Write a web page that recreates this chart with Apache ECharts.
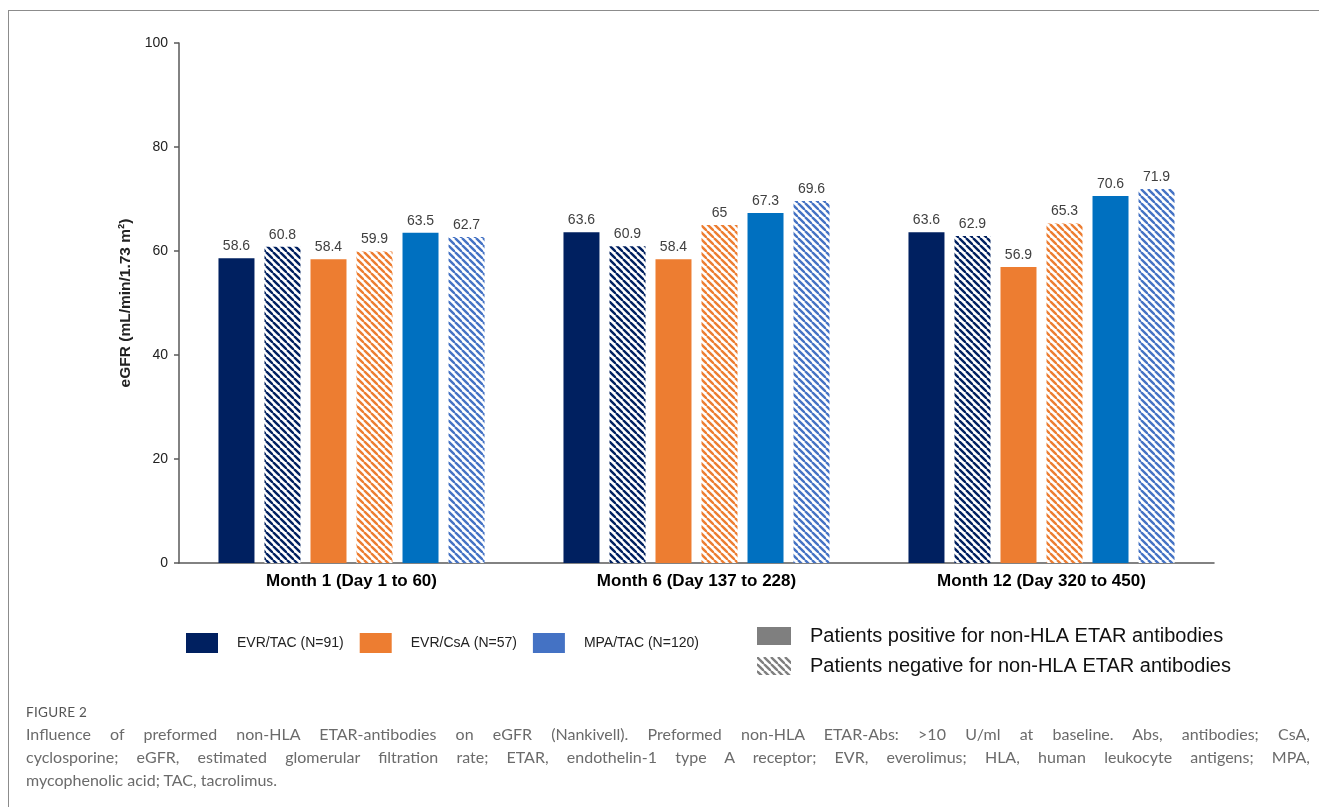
<!DOCTYPE html>
<html><head><meta charset="utf-8">
<script src="https://cdn.jsdelivr.net/npm/echarts@6/dist/echarts.min.js"></script>
<style>
html,body{margin:0;padding:0;background:#fff;}
#wrap{position:relative;width:1319px;height:807px;overflow:hidden;background:#fff;}
#chart{position:absolute;left:0;top:0;width:1319px;height:807px;}
#frame{position:absolute;left:8px;top:10px;right:-2px;bottom:-2px;border-top:1px solid #8c8c8c;border-left:1px solid #8c8c8c;pointer-events:none;}
#cap{position:absolute;left:26px;width:1284px;top:702px;font-family:Lato,'Open Sans',sans-serif;color:#6b6b6b;}
#cap .fig{font-size:13.5px;line-height:20px;letter-spacing:0.3px;color:#555;}
#cap .ln{font-size:16px;line-height:23px;text-align:justify;text-align-last:justify;}
#cap .last{font-size:16px;line-height:23px;text-align:left;}
</style></head>
<body><div id="wrap"><div id="chart"></div><div id="frame"></div>
<div id="cap">
<div class="fig">FIGURE 2</div>
<div class="ln">Influence of preformed non-HLA ETAR-antibodies on eGFR (Nankivell). Preformed non-HLA ETAR-Abs: &gt;10 U/ml at baseline. Abs, antibodies; CsA,</div>
<div class="ln">cyclosporine; eGFR, estimated glomerular filtration rate; ETAR, endothelin-1 type A receptor; EVR, everolimus; HLA, human leukocyte antigens; MPA,</div>
<div class="last">mycophenolic acid; TAC, tacrolimus.</div>
</div></div>
<script>
const categories = ['Month 1 (Day 1 to 60)', 'Month 6 (Day 137 to 228)', 'Month 12 (Day 320 to 450)'];
const evrTacPos = [58.6, 63.6, 63.6];
const evrTacNeg = [60.8, 60.9, 62.9];
const evrCsaPos = [58.4, 58.4, 56.9];
const evrCsaNeg = [59.9, 65, 65.3];
const mpaTacPos = [63.5, 67.3, 70.6];
const mpaTacNeg = [62.7, 69.6, 71.9];
const yTicks = [0, 20, 40, 60, 80, 100];
const groupNames = ['EVR/TAC (N=91)', 'EVR/CsA (N=57)', 'MPA/TAC (N=120)'];
const statusNames = ['Patients positive for non-HLA ETAR antibodies', 'Patients negative for non-HLA ETAR antibodies'];

const NAVY = '#002060', ORANGE = '#ED7D31', BLUE = '#0070C0', LBLUE = '#4472C4', GREY = '#7f7f7f';

function hatch(color) {
  const s = 7;
  const c = document.createElement('canvas');
  c.width = s; c.height = s;
  const g = c.getContext('2d');
  g.fillStyle = '#fff'; g.fillRect(0, 0, s, s);
  g.strokeStyle = color; g.lineWidth = 2.4;
  for (let k = -1; k <= 1; k++) {
    g.beginPath(); g.moveTo(k * s, 0); g.lineTo(k * s + s, s); g.stroke();
  }
  return { image: c, repeat: 'repeat' };
}

const font = "'Liberation Sans', Arial, sans-serif";
const label = { show: true, position: 'top', distance: 5, fontSize: 14, color: '#404040', fontFamily: font };

function bar(name, data, color, extra) {
  return Object.assign({
    type: 'bar', name: name, data: data, barWidth: 36, barGap: '27.8%',
    itemStyle: { color: color }, label: label, emphasis: { disabled: true }
  }, extra || {});
}

const series = [
  bar(groupNames[0], evrTacPos, NAVY, { stack: 'a' }),
  bar(groupNames[0] + ' neg', evrTacNeg, hatch(NAVY)),
  bar(groupNames[1], evrCsaPos, ORANGE),
  bar(groupNames[1] + ' neg', evrCsaNeg, hatch(ORANGE)),
  bar(groupNames[2], mpaTacPos, BLUE),
  bar(groupNames[2] + ' neg', mpaTacNeg, hatch(LBLUE)),
  { type: 'bar', name: statusNames[0], data: [], stack: 'a', itemStyle: { color: GREY } },
  { type: 'bar', name: statusNames[1], data: [], stack: 'a', itemStyle: { color: hatch(GREY) } }
];

const chart = echarts.init(document.getElementById('chart'), null, { renderer: 'canvas' });
chart.setOption({
  animation: false,
  backgroundColor: 'transparent',
  grid: { left: 179, right: 105, top: 43, bottom: 244, containLabel: false },
  xAxis: {
    type: 'category', data: categories,
    axisLine: { lineStyle: { color: '#595959', width: 1.5 } },
    axisTick: { show: false },
    axisLabel: { fontSize: 17, fontWeight: 'bold', color: '#000', margin: 10, fontFamily: font }
  },
  yAxis: {
    type: 'value', min: yTicks[0], max: yTicks[yTicks.length - 1], interval: 20,
    name: 'eGFR (mL/min/1.73 m²)', nameLocation: 'middle', nameGap: 45,
    nameTextStyle: { fontSize: 15.5, fontWeight: 'bold', color: '#222', fontFamily: font },
    axisLine: { show: true, lineStyle: { color: '#595959', width: 1.5 } },
    axisTick: { show: true, length: 5, lineStyle: { color: '#595959', width: 1.5 } },
    splitLine: { show: false },
    axisLabel: { fontSize: 14, color: '#222', margin: 11, fontFamily: font }
  },
  legend: [
    {
      left: 186, top: 633, padding: 0, itemWidth: 32, itemHeight: 20, itemGap: 16, icon: 'rect',
      selectedMode: false,
      textStyle: { fontSize: 14, color: '#222', fontFamily: font, padding: [0, 0, 0, 14] },
      data: [
        { name: groupNames[0] },
        { name: groupNames[1] },
        { name: groupNames[2], itemStyle: { color: LBLUE } }
      ]
    },
    {
      left: 757, top: 626, padding: 0, orient: 'vertical', itemWidth: 34, itemHeight: 18, itemGap: 10, icon: 'rect',
      selectedMode: false,
      textStyle: { fontSize: 20, color: '#111', fontFamily: font, padding: [0, 0, 0, 14], lineHeight: 20 },
      data: statusNames.map(n => ({ name: n }))
    }
  ],
  series: series
});
</script></body></html>
